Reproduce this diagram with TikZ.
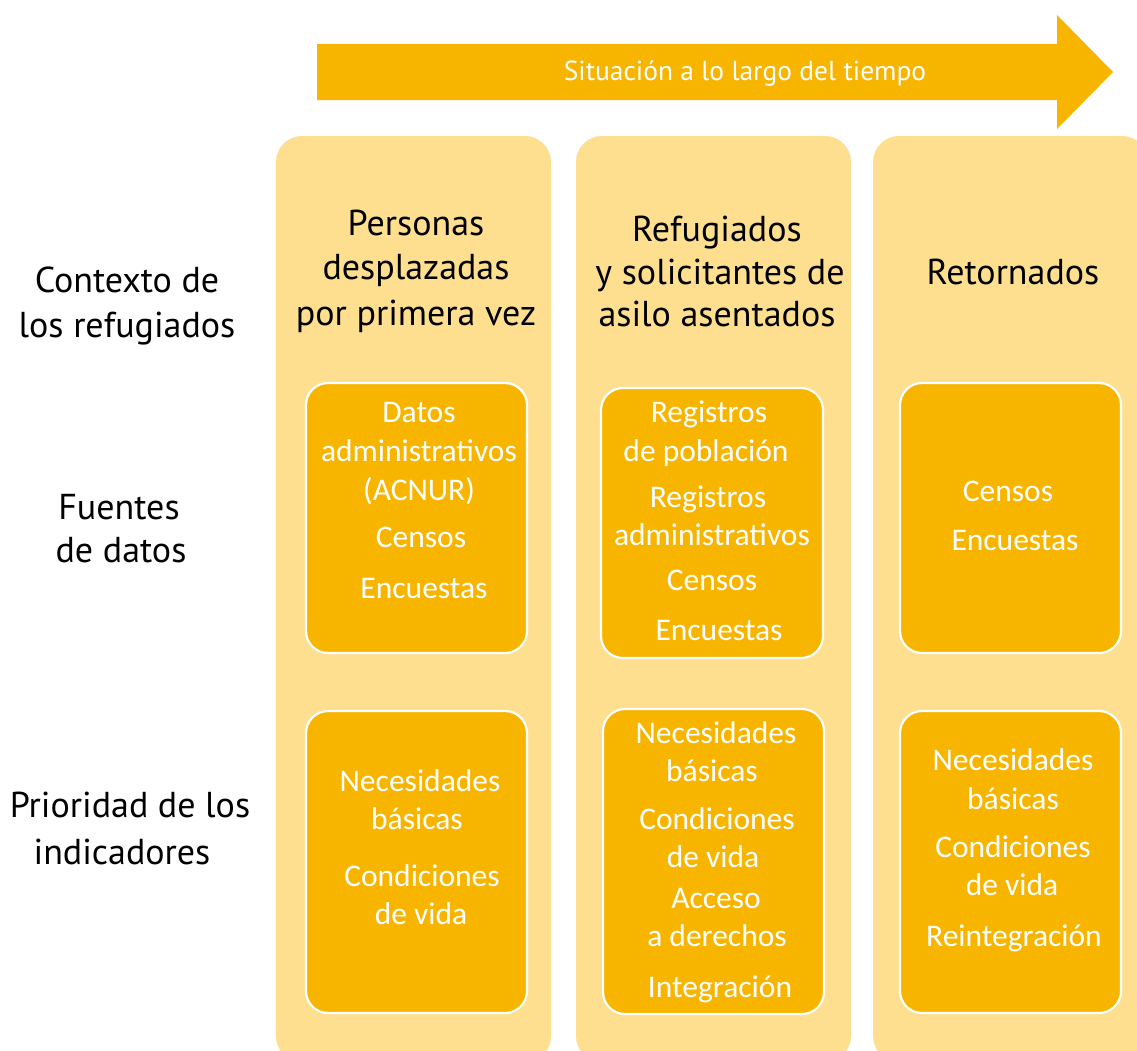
\documentclass[tikz,border=0pt]{standalone}
\usepackage{fontspec}
\setmainfont{Carlito}
\newfontfamily\myriad{PT Sans}
\definecolor{colbg}{RGB}{253,223,143}
\definecolor{dark}{RGB}{248,181,0}
\begin{document}
\begin{tikzpicture}[x=1pt,y=-1pt,
  col/.style={fill=colbg, rounded corners=26pt, inner sep=0pt},
  box/.style={fill=dark, draw=white, line width=2.2pt, rounded corners=22pt, inner sep=0pt},
  wt/.style={text=white, font=\fontsize{31.5}{33}\selectfont, anchor=mid, inner sep=0pt, yshift=-7pt},
  bt/.style={text=black, font=\myriad\fontsize{36}{38}\selectfont, anchor=mid, inner sep=0pt, yshift=-7pt},
  lt/.style={text=white, font=\myriad\fontsize{27.5}{30}\selectfont, anchor=mid, inner sep=0pt, yshift=-6pt}]
\useasboundingbox (0,0) rectangle (1137,1050);
\fill[white] (0,0) rectangle (1137,1050);
% timeline arrow
\fill[dark] (317,44) -- (1057,44) -- (1057,15) -- (1113,72) -- (1057,129) -- (1057,100) -- (317,100) -- cycle;
\node[lt] (arrowlabel) at (745,72) {Situación a lo largo del tiempo};
% columns
\node[col, minimum width=275pt, minimum height=926pt] (c1) at (413.5,599) {};
\node[col, minimum width=275pt, minimum height=926pt] (c2) at (713.5,599) {};
\node[col, minimum width=275pt, minimum height=926pt] (c3) at (1010.5,599) {};
% inner boxes
\node[box, minimum width=221pt, minimum height=270pt] (b11) at (416.5,518) {};
\node[box, minimum width=221pt, minimum height=302pt] (b12) at (416.5,862) {};
\node[box, minimum width=222pt, minimum height=270pt] (b21) at (712,523) {};
\node[box, minimum width=221pt, minimum height=305pt] (b22) at (713.5,861.5) {};
\node[box, minimum width=221pt, minimum height=270pt] (b31) at (1010.5,518) {};
\node[box, minimum width=221pt, minimum height=302pt] (b32) at (1010.5,862) {};
% row labels
\node[bt] (r1a) at (127,283) {Contexto de};
\node[bt] (r1b) at (127,328) {los refugiados};
\node[bt] (r2a) at (119,510) {Fuentes};
\node[bt] (r2b) at (121,553) {de datos};
\node[bt] (r3a) at (130,808) {Prioridad de los};
\node[bt] (r3b) at (122,855) {indicadores};
% column titles
\node[bt] (t1a) at (416,226) {Personas};
\node[bt] (t1b) at (416,270) {desplazadas};
\node[bt] (t1c) at (416,316) {por primera vez};
\node[bt] (t2a) at (717,232) {Refugiados};
\node[bt] (t2b) at (720,275) {y solicitantes de};
\node[bt] (t2c) at (717,317) {asilo asentados};
\node[bt] (t3a) at (1013,275) {Retornados};
% column 1 texts
\node[wt] (w111) at (419,413) {Datos};
\node[wt] (w112) at (419,452) {administrativos};
\node[wt] (w113) at (419,491) {(ACNUR)};
\node[wt] (w114) at (421,538) {Censos};
\node[wt] (w115) at (424,589) {Encuestas};
\node[wt] (w121) at (420,782) {Necesidades};
\node[wt] (w122) at (417,820) {básicas};
\node[wt] (w123) at (422,877) {Condiciones};
\node[wt] (w124) at (421,915) {de vida};
% column 2 texts
\node[wt] (w211) at (709,413) {Registros};
\node[wt] (w212) at (706,452) {de población};
\node[wt] (w213) at (708,498) {Registros};
\node[wt] (w214) at (712,536) {administrativos};
\node[wt] (w215) at (712,581) {Censos};
\node[wt] (w216) at (719,631) {Encuestas};
\node[wt] (w221) at (716,734) {Necesidades};
\node[wt] (w222) at (712,772) {básicas};
\node[wt] (w223) at (717,820) {Condiciones};
\node[wt] (w224) at (713,858) {de vida};
\node[wt] (w225) at (716,899) {Acceso};
\node[wt] (w226) at (717,937) {a derechos};
\node[wt] (w227) at (720,988) {Integración};
% column 3 texts
\node[wt] (w311) at (1008,492) {Censos};
\node[wt] (w312) at (1015,541) {Encuestas};
\node[wt] (w321) at (1013,761) {Necesidades};
\node[wt] (w322) at (1013,800) {básicas};
\node[wt] (w323) at (1013,848) {Condiciones};
\node[wt] (w324) at (1012,886) {de vida};
\node[wt] (w325) at (1014,937) {Reintegración};
\end{tikzpicture}
\end{document}
